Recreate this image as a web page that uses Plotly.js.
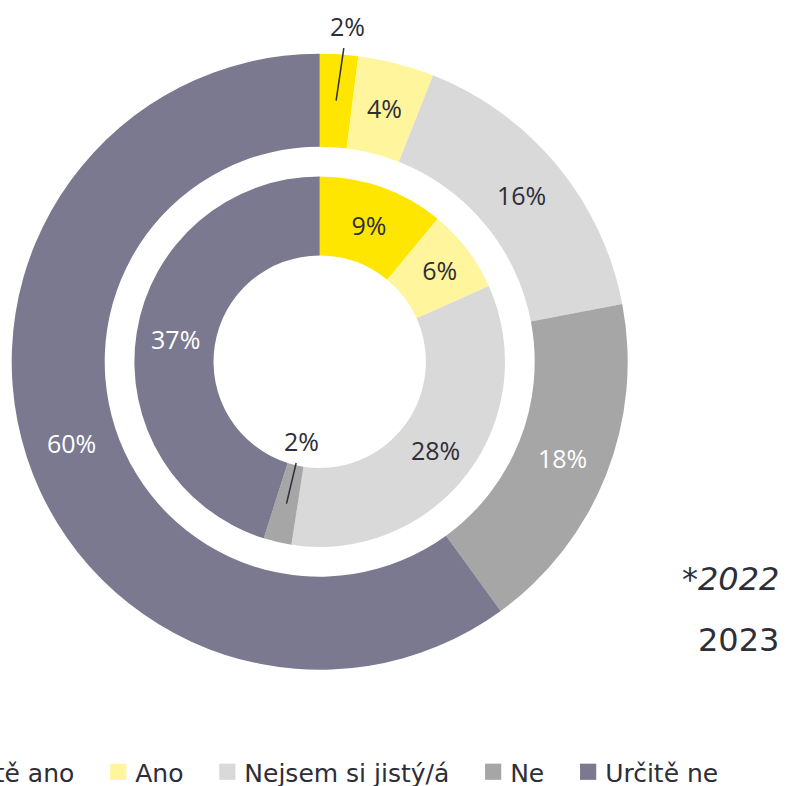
<!DOCTYPE html>
<html><head><meta charset="utf-8">
<script src="https://cdn.plot.ly/plotly-3.0.1.min.js"></script>
<style>
html,body{margin:0;padding:0;overflow:hidden;background:#fff;width:788px;height:786px}
#wrap{position:relative;width:788px;height:786px;overflow:hidden}
#chart{position:absolute;left:-100px;top:0;width:900px;height:786px}
path.legendpie{transform:translate(23px,0px) scale(1.35)}
</style>
</head><body><div id="wrap"><div id="chart"></div></div>
<script>
// ---- data ----
const categories = ['Určitě ano', 'Ano', 'Nejsem si jistý/á', 'Ne', 'Určitě ne'];
const values2023 = [2, 4, 16, 18, 60];   // outer ring
const values2022 = [9, 6, 28, 2, 37];    // inner ring
const yearLabels = ['*2022', '2023'];

// ---- styles ----
const colors = ['#FFE600', '#FFF59C', '#D9D9D9', '#A6A6A6', '#7A798F'];
const textColors = ['#2E2E38', '#2E2E38', '#2E2E38', '#FFFFFF', '#FFFFFF'];
const DARK = '#2E2E38';
const W = 900, H = 786, OFF = 100;
const CX = 319.7 + OFF, CY = 361.7;
const rings = {
  outer: {R: 308, hole: 0.698},
  inner: {R: 185.3, hole: 0.573}
};
function domainFor(r) {
  return {
    x: [(CX - r.R) / W, (CX + r.R) / W],
    y: [(H - CY - r.R) / H, (H - CY + r.R) / H]
  };
}
const SMALL = 3; // slices below this value get an outside label with a leader line
const PAD = '\u00a0\u00a0'; // extra spacing after each legend entry
function sliceTexts(vals) { return vals.map(v => v < SMALL ? '' : v + '%'); }

const labelFont = {family: 'Open Sans, sans-serif', size: 25};

const outer = {
  type: 'pie', values: values2023, labels: categories.map(c => c + PAD), sort: false,
  direction: 'clockwise', rotation: 0, hole: rings.outer.hole,
  domain: domainFor(rings.outer),
  marker: {colors: colors, line: {width: 0}},
  textinfo: 'none',
  hoverinfo: 'none', showlegend: true, name: '2023'
};
const inner = {
  type: 'pie', values: values2022, labels: categories.map(c => c + PAD), sort: false,
  direction: 'clockwise', rotation: 0, hole: rings.inner.hole,
  domain: domainFor(rings.inner),
  marker: {colors: colors, line: {width: 0}},
  text: sliceTexts(values2022), textinfo: 'text', textposition: 'inside',
  insidetextorientation: 'horizontal',
  textfont: Object.assign({}, labelFont, {color: textColors}),
  hoverinfo: 'none', showlegend: false, name: '*2022'
};

// slice labels placed at the middle of each slice (outer ring)
function ringLabels(vals, ring, weight) {
  const total = vals.reduce((a, b) => a + b, 0);
  const rm = ring.R * (1 + ring.hole) / 2;
  const out = [];
  let cum = 0;
  vals.forEach((v, i) => {
    if (v >= SMALL) {
      const th = (cum + v / 2) / total * 2 * Math.PI;
      out.push({
        xref: 'paper', yref: 'paper', xanchor: 'center', yanchor: 'middle',
        x: (CX + rm * Math.sin(th)) / W,
        y: 1 - (CY - rm * Math.cos(th)) / H,
        text: v + '%', showarrow: false,
        font: Object.assign({}, labelFont, {color: textColors[i], weight: weight})
      });
    }
    cum += v;
  });
  return out;
}

// leader-line labels for small slices, placed from the slice geometry
function leaderAnnots(vals, ring, ax, ay, weight) {
  const total = vals.reduce((a, b) => a + b, 0);
  const out = [];
  let cum = 0;
  vals.forEach(v => {
    if (v < SMALL) {
      const th = (cum + v / 2) / total * 2 * Math.PI;
      const rm = ring.R * (1 + ring.hole) / 2;
      out.push({
        xref: 'paper', yref: 'paper',
        x: (CX + rm * Math.sin(th)) / W,
        y: 1 - (CY - rm * Math.cos(th)) / H,
        text: v + '%', showarrow: true, arrowhead: 0, arrowwidth: 1.5,
        arrowcolor: DARK, ax: ax, ay: ay, standoff: 0, startstandoff: 4,
        font: Object.assign({}, labelFont, {color: DARK, weight: weight})
      });
    }
    cum += v;
  });
  return out;
}

const annotations = [].concat(
  ringLabels(values2023, rings.outer, 400),
  leaderAnnots(values2023, rings.outer, 11, -75, 400),
  leaderAnnots(values2022, rings.inner, 15, -63, 400),
  [
    {xref: 'paper', yref: 'paper', x: (781 + OFF) / W, y: 1 - 579 / H, xanchor: 'right', yanchor: 'middle',
     text: yearLabels[0], showarrow: false,
     font: {family: 'DejaVu Sans, sans-serif', size: 32, color: DARK, style: 'italic'}},
    {xref: 'paper', yref: 'paper', x: (781 + OFF) / W, y: 1 - 640 / H, xanchor: 'right', yanchor: 'middle',
     text: yearLabels[1], showarrow: false,
     font: {family: 'DejaVu Sans, sans-serif', size: 32, color: DARK}}
  ]
);

const layout = {
  width: W, height: H,
  margin: {l: 0, r: 0, t: 0, b: 0, autoexpand: false},
  paper_bgcolor: '#ffffff', plot_bgcolor: '#ffffff',
  showlegend: true,
  legend: {
    orientation: 'h', x: 6 / W, xanchor: 'left', y: (H - 772) / H, yanchor: 'middle',
    font: {family: 'DejaVu Sans, sans-serif', size: 25, color: DARK},
    bgcolor: 'rgba(0,0,0,0)', traceorder: 'normal'
  },
  annotations: annotations
};

Plotly.newPlot('chart', [outer, inner], layout, {displayModeBar: false, staticPlot: true});
</script>
</body></html>
